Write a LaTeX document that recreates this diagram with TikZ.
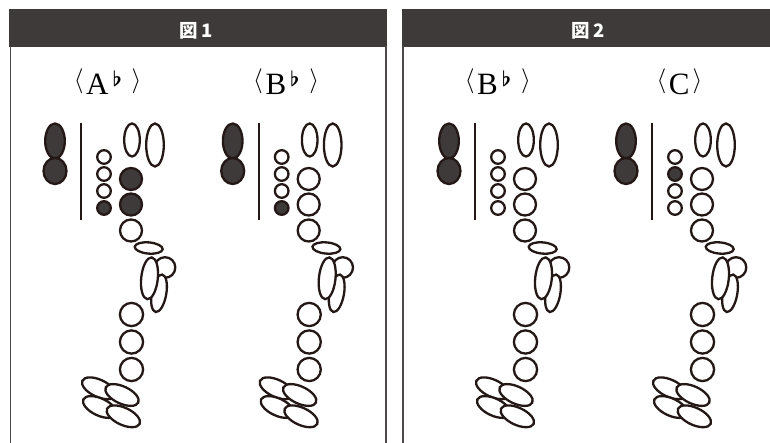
\documentclass[tikz,border=0pt]{standalone}
\usepackage{fontspec}
\newfontfamily\jpfont{Noto Sans CJK JP}
\newfontfamily\serifletters{Liberation Serif}
\definecolor{hdr}{HTML}{3E3A39}
\definecolor{keyfill}{HTML}{3E3A39}
\definecolor{keystroke}{HTML}{231815}
\definecolor{framecol}{HTML}{4D4948}
\tikzset{
  keyline/.style={draw=keystroke, line width=2.3pt},
  open/.style={keyline, fill=white},
  closed/.style={keyline, fill=keyfill},
  rod/.style={draw=keystroke, line width=2.3pt},
  headtext/.style={text=white, font=\jpfont\bfseries\fontsize{18.5}{18.5}\selectfont, inner sep=0pt},
  notelabel/.style={inner sep=0pt, text=black, font=\normalsize},
  panelline/.style={draw=framecol, line width=1.6pt}
}
\newcommand{\lbr}{\scalebox{2.5}{$\langle$}}
\newcommand{\rbr}{\scalebox{2.5}{$\rangle$}}
\newcommand{\flatpart}{\hspace{4pt}\makebox[8pt][l]{\raisebox{7.5pt}{\scalebox{2.1}{\boldmath$\flat$}}}\hspace{11pt}}
\newcommand{\notetext}[2]{\makebox[9pt][c]{\raisebox{6.3pt}{\lbr}}\hspace{3pt}{\serifletters\fontsize{31}{31}\selectfont #1}#2\makebox[10pt][c]{\raisebox{6.3pt}{\rbr}}}
\newcommand{\fingering}[8]{%
\begin{scope}[xshift=#1pt]
 \draw[closed] (55,141) ellipse [x radius=9.8, y radius=17.5];
 \draw[closed] (55,171) ellipse [x radius=11.5, y radius=13];
 \draw[rod] (81,123) -- (81,220);
 \draw[#2] (104,157) circle [radius=6.8];
 \draw[#3] (104,174) circle [radius=6.8];
 \draw[#4] (104,191) circle [radius=6.8];
 \draw[#5] (104,208) circle [radius=6.8];
 \draw[open] (132,140) ellipse [x radius=7.8, y radius=16.5];
 \draw[open] (155,145) ellipse [x radius=8.8, y radius=21.5];
 \draw[#6] (131,179) circle [radius=11];
 \draw[#7] (131,204.5) circle [radius=11];
 \draw[#8] (131,230.5) circle [radius=11];
 \draw[open, rotate around={-5:(148.7,248)}] (148.7,248) ellipse [x radius=14, y radius=5.6];
 \draw[open] (165,267.5) circle [radius=10.3];
 \draw[open, rotate around={-10:(159,293.3)}] (159,293.3) ellipse [x radius=7.3, y radius=19];
 \draw[open, rotate around={-6:(149.5,278.3)}] (149.5,278.3) ellipse [x radius=8.3, y radius=21];
 \draw[open] (131.5,314.5) circle [radius=11.6];
 \draw[open] (131.5,342) circle [radius=11.6];
 \draw[open] (131.5,369.5) circle [radius=11.6];
 \draw[open, rotate around={-25:(98.7,388.3)}] (98.7,388.3) ellipse [x radius=18, y radius=8.6];
 \draw[open, rotate around={-25:(99.7,407)}] (99.7,407) ellipse [x radius=18, y radius=8.6];
 \draw[open, rotate around={-25:(122,395)}] (122,395) ellipse [x radius=18, y radius=8.6];
 \draw[open, rotate around={-25:(123.3,416.3)}] (123.3,416.3) ellipse [x radius=18, y radius=8.6];
\end{scope}}
\begin{document}
\begin{tikzpicture}[x=1pt, y=-1pt]
\useasboundingbox (0,0) rectangle (770,443);
% panel 1
\fill[hdr] (9,9) rectangle (387,46.7);
\draw[panelline] (10.3,46) -- (10.3,443);
\draw[panelline] (386,46) -- (386,443);
\node[headtext] (h1) at (196,31) {図 1};
% panel 2
\fill[hdr] (402,9) rectangle (770,46.7);
\draw[panelline] (403,46) -- (403,443);
\node[headtext] (h2) at (588,31) {図 2};
% labels
\node[notelabel, anchor=base west] (n1) at (74,94.3) {\notetext{A}{\flatpart}};
\node[notelabel, anchor=base west] (n2) at (253.3,94.3) {\notetext{B}{\flatpart}};
\node[notelabel, anchor=base west] (n3) at (465,94.3) {\notetext{B}{\flatpart}};
\node[notelabel, anchor=base west] (n4) at (656.7,94.3) {\notetext{C}{\hspace{3pt}}};
% fingering charts
\fingering{0}{open}{open}{open}{closed}{closed}{closed}{open}
\fingering{177.7}{open}{open}{open}{closed}{open}{open}{open}
\fingering{394}{open}{open}{open}{open}{open}{open}{open}
\fingering{571}{open}{closed}{open}{open}{open}{open}{open}
\end{tikzpicture}
\end{document}
